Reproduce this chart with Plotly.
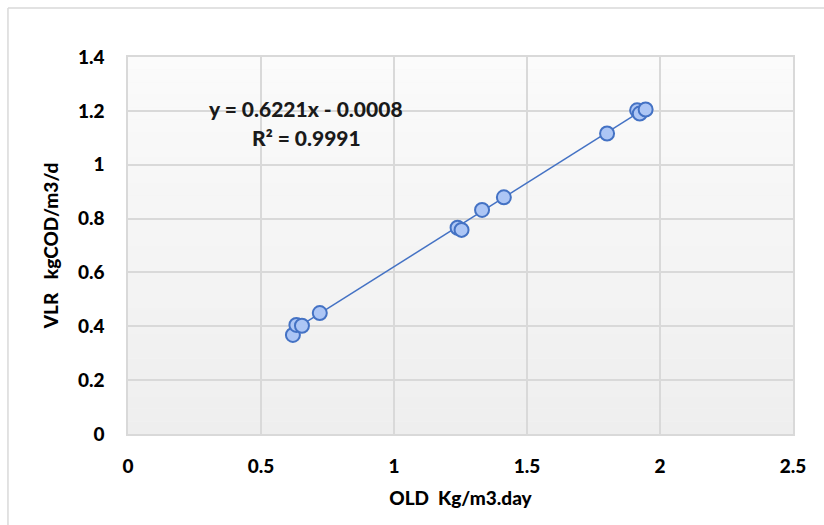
import plotly.graph_objects as go

old_x = [0.620, 0.633, 0.654, 0.721, 1.239, 1.254, 1.331, 1.413, 1.801, 1.914, 1.924, 1.946]
vlr_y = [0.368, 0.405, 0.402, 0.449, 0.766, 0.758, 0.832, 0.879, 1.116, 1.202, 1.190, 1.205]
slope = 0.6221
intercept = -0.0008
r2 = 0.9991
x_ticks = [0, 0.5, 1, 1.5, 2, 2.5]
y_ticks = [0, 0.2, 0.4, 0.6, 0.8, 1, 1.2, 1.4]

FONT = "Lato"
W = 900
fig = go.Figure()

xmin, xmax = min(old_x), max(old_x)
fig.add_trace(go.Scatter(
    x=[xmin, xmax], y=[slope * xmin + intercept, slope * xmax + intercept],
    mode="lines", line=dict(color="#4472c4", width=1.5), hoverinfo="skip", showlegend=False))
fig.add_trace(go.Scatter(
    x=old_x, y=vlr_y, mode="markers",
    marker=dict(size=14, color="#adc6f5", line=dict(color="#4472c4", width=2)),
    showlegend=False))

# gradient background bands
shapes = []
n = 30
for i in range(n):
    t = (i + 0.5) / n
    g = int(round(251 - (251 - 238) * (1 - t)))
    shapes.append(dict(type="rect", xref="x domain", yref="y domain",
                       x0=0, x1=1, y0=i / n, y1=(i + 1) / n,
                       fillcolor=f"rgb({g},{g},{g})", line=dict(width=0), layer="below"))
# outer chart border (left & top)
shapes.append(dict(type="line", xref="paper", yref="paper", x0=-0.1805, x1=1.1, y0=1.13, y1=1.13,
                   line=dict(color="#d9d9d9", width=1.5)))
shapes.append(dict(type="line", xref="paper", yref="paper", x0=-0.1805, x1=-0.1805, y0=-0.3, y1=1.13,
                   line=dict(color="#d9d9d9", width=1.5)))
fig.update_layout(shapes=shapes)

fig.add_annotation(x=0.67, y=1.21, xref="x", yref="y",
                   text=f"y = {slope}x - {abs(intercept):.4f}", showarrow=False,
                   font=dict(family=FONT, size=21, color="#1a1a1a", weight=W))
fig.add_annotation(x=0.67, y=1.10, xref="x", yref="y",
                   text=f"R² = {r2}", showarrow=False,
                   font=dict(family=FONT, size=21, color="#1a1a1a", weight=W))

axis_common = dict(showgrid=True, gridcolor="#d9d9d9", gridwidth=1.5, zeroline=False,
                   showline=True, linecolor="#d9d9d9", linewidth=1.5, mirror=True,
                   ticks="", tickfont=dict(family=FONT, size=19, color="#000000", weight=W))
fig.update_xaxes(range=[0, 2.5], tickvals=x_ticks, ticktext=[f"{v:g}" for v in x_ticks],
                 title=dict(text="OLD  Kg/m3.day", font=dict(family=FONT, size=19, color="#000000", weight=W),
                            standoff=16), ticklabelstandoff=14, **axis_common)
fig.update_yaxes(range=[0, 1.4], tickvals=y_ticks, ticktext=[f"{v:g}" for v in y_ticks],
                 title=dict(text="VLR   kgCOD/m3/d", font=dict(family=FONT, size=19, color="#000000", weight=W),
                            standoff=14), ticklabelstandoff=18, **axis_common)
fig.update_layout(width=824, height=525, margin=dict(l=128, r=31, t=57, b=91),
                  paper_bgcolor="white", plot_bgcolor="#f4f4f4")
fig.write_html("out.html")
